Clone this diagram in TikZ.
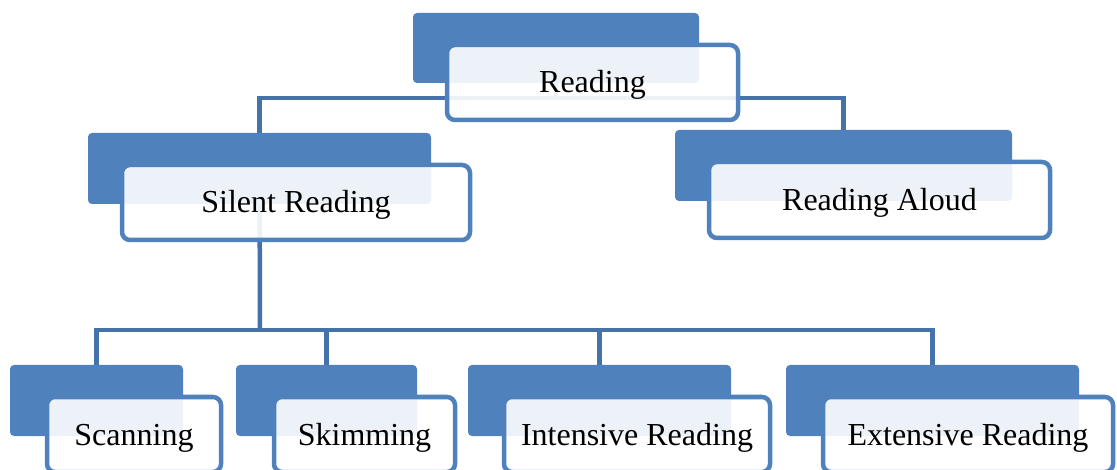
\documentclass[tikz,border=0pt]{standalone}
\usepackage{fontspec}
\setmainfont{Liberation Serif}
\usetikzlibrary{positioning, backgrounds}
\definecolor{boxblue}{RGB}{79,129,189}
\definecolor{lineblue}{RGB}{70,114,170}
\tikzset{
    backbox/.style={
        fill=boxblue,
        rounded corners=4pt,
        inner sep=0pt,
        minimum width=#1,
        minimum height=71pt,
    },
    frontbox/.style={
        draw=boxblue,
        line width=4.5pt,
        fill=white,
        fill opacity=0.9,
        text opacity=1,
        rounded corners=8pt,
        inner sep=0pt,
        text height=27pt,
        text depth=6pt,
        minimum width=#1,
        minimum height=75pt,
        font=\fontsize{32}{38}\selectfont,
    },
    link/.style={
        draw=lineblue,
        line width=4.5pt,
    },
}

\begin{document}
\begin{tikzpicture}[x=1pt, y=-1pt]
        \useasboundingbox (0,0) rectangle (1117,470);

        % top level
        \node[backbox=286pt, minimum height=70pt] (rootback) at (556,48) {};
        \node[frontbox=291pt] (root) at (592.5,82.5) {Reading};

        % second level
        \node[backbox=343pt] (silentback) at (259.5,168.5) {};
        \node[frontbox=348pt] (silent) at (296,202.5) {Silent Reading};

        \node[backbox=337pt] (aloudback) at (843.5,165.5) {};
        \node[frontbox=341pt, minimum height=76pt] (aloud) at (879.5,200) {Reading Aloud};

        % third level
        \node[backbox=173pt] (scanback) at (96.5,400.5) {};
        \node[frontbox=174pt] (scan) at (134,434.5) {Scanning};

        \node[backbox=181pt] (skimback) at (326.5,400.5) {};
        \node[frontbox=181pt] (skim) at (364.5,434.5) {Skimming};

        \node[backbox=263pt] (intensiveback) at (599.5,400.5) {};
        \node[frontbox=266pt] (intensive) at (637,434.5) {Intensive Reading};

        \node[backbox=293pt] (extensiveback) at (932.5,400.5) {};
        \node[frontbox=290pt] (extensive) at (968,434.5) {Extensive Reading};

        % connectors
        \begin{scope}[on background layer]
            \coordinate (rootjoin) at (556,98);
            \coordinate (silentjoin) at (260,330);
            \draw[link] (rootback.center) -- (rootjoin);
            \draw[link] (silentback.center) |- (rootjoin) -| (aloudback.center);
            \draw[link] (silentback.center) -- (silentjoin);
            \foreach \leaf in {scanback, skimback, intensiveback, extensiveback}
                \draw[link] (silentjoin) -| (\leaf.center);
        \end{scope}
    \end{tikzpicture}
\end{document}
